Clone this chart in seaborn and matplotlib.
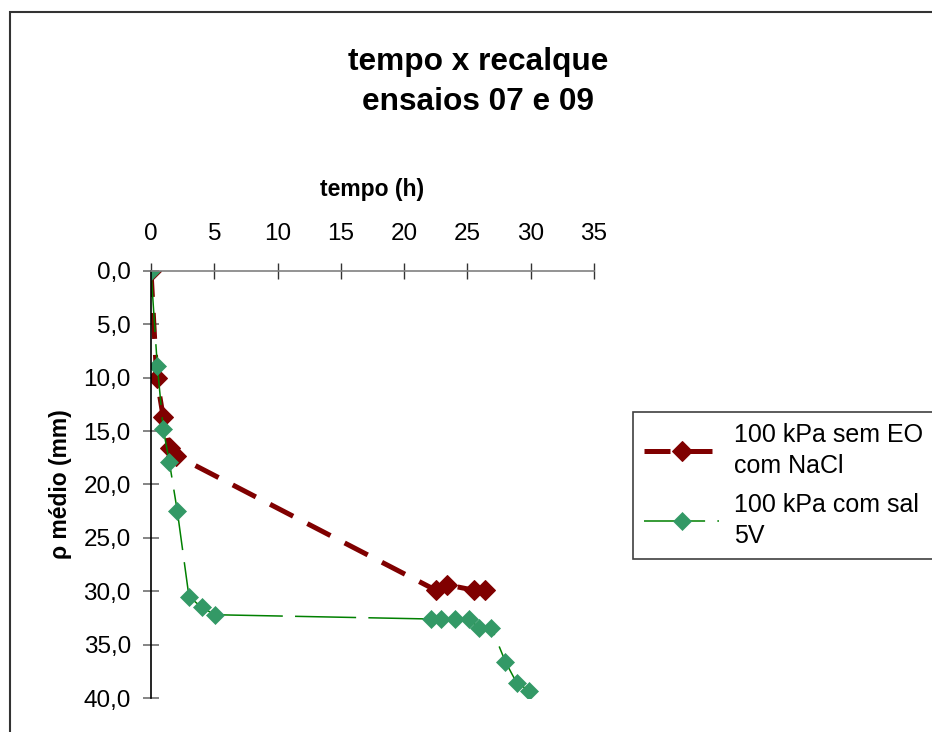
import matplotlib
matplotlib.use("Agg")
import matplotlib.pyplot as plt
from matplotlib.patches import Rectangle
import seaborn as sns
import pandas as pd

# tempo (h) x recalque medio (mm)
red_t = [0, 0.45, 0.97, 1.5, 2.0, 22.5, 23.4, 25.5, 26.4]
red_r = [0, 10.0, 13.7, 16.6, 17.3, 29.9, 29.4, 29.9, 29.9]
green_t = [0, 0.5, 0.97, 1.45, 2.08, 3.0, 4.0, 5.05, 22.1, 22.95, 24.0, 25.1,
           25.9, 26.9, 28.0, 28.9, 29.9]
green_r = [0, 8.9, 14.8, 17.9, 22.5, 30.5, 31.5, 32.2, 32.6, 32.6, 32.6, 32.6,
           33.4, 33.4, 36.6, 38.6, 39.3]
red_label = "100 kPa sem EO\ncom NaCl"
green_label = "100 kPa com sal\n5V"

x_ticks = [0, 5, 10, 15, 20, 25, 30, 35]
y_ticks = [0, 5, 10, 15, 20, 25, 30, 35, 40]
y_ticklabels = ["0,0", "5,0", "10,0", "15,0", "20,0", "25,0", "30,0", "35,0", "40,0"]

sns.set_style("white")
plt.rcParams['font.family'] = ['Liberation Sans', 'DejaVu Sans']
plt.rcParams['text.color'] = 'black'
plt.rcParams['axes.labelcolor'] = 'black'

df_red = pd.DataFrame({'t': red_t, 'r': red_r})
df_green = pd.DataFrame({'t': green_t, 'r': green_r})

W, H = 932, 732
fig = plt.figure(figsize=(W / 100, H / 100), dpi=100)
ax = fig.add_axes([151 / W, 1 - 698 / H, 443 / W, 427 / H])

sns.lineplot(data=df_red, x='t', y='r', ax=ax, sort=False, color='#800000',
             linewidth=3.6, linestyle=(0, (5.2, 3.2)), marker='D', markersize=10.5,
             markerfacecolor='#800000', markeredgecolor='#800000', label=red_label)
sns.lineplot(data=df_green, x='t', y='r', ax=ax, sort=False, color='#008000',
             linewidth=1.1, linestyle=(0, (40, 8)), marker='D', markersize=9,
             markerfacecolor='#339966', markeredgecolor='#339966', markeredgewidth=0.5,
             label=green_label)

ax.set_xlim(0, 35)
ax.set_ylim(40, 0)
ax.set_xticks(x_ticks)
ax.set_yticks(y_ticks)
ax.set_yticklabels(y_ticklabels)

ax.xaxis.tick_top()
ax.xaxis.set_label_position('top')
ax.set_xlabel("tempo (h)", fontsize=16.5, fontweight='bold')
ax.xaxis.set_label_coords(0.5, 1 + (271 - 196) / 427)
ax.set_ylabel("ρ médio (mm)", fontsize=16.5, fontweight='bold')
ax.yaxis.set_label_coords((72 - 151) / 443, 0.5)

for side in ['right', 'bottom']:
    ax.spines[side].set_visible(False)
ax.spines['top'].set_color('#808080')
ax.spines['left'].set_color('black')
ax.spines['top'].set_linewidth(1.2)
ax.spines['left'].set_linewidth(1.2)
ax.tick_params(axis='x', which='both', top=True, bottom=False, direction='inout',
               length=11, width=1, color='#333333', labelcolor='black',
               labelsize=17.5, pad=13)
ax.tick_params(axis='y', which='both', left=True, direction='inout',
               length=11, width=1.2, color='#707070', labelcolor='black',
               labelsize=17.5, pad=9)

leg = ax.legend(loc='upper left', bbox_to_anchor=(633 / W, 1 - 412 / H),
                bbox_transform=fig.transFigure, borderaxespad=0, fontsize=18,
                frameon=True, fancybox=False, framealpha=1, edgecolor='#404040',
                handlelength=3.0, handletextpad=0.6, labelspacing=0.6,
                borderpad=0.45)
for t in leg.get_texts():
    t.set_linespacing(1.35)
leg.get_frame().set_linewidth(1.2)

fig.text(478 / W, 1 - 70 / H, "tempo x recalque", ha='center', va='baseline',
         fontsize=22.8, fontweight='bold')
fig.text(478 / W, 1 - 110 / H, "ensaios 07 e 09", ha='center', va='baseline',
         fontsize=22.8, fontweight='bold')

fig.patches.append(Rectangle((10 / W, -0.1), 2, 1 - 12 / H + 0.1, fill=False,
                             edgecolor='#333333', linewidth=1.5,
                             transform=fig.transFigure, clip_on=False))

fig.savefig("out.png", dpi=100)
